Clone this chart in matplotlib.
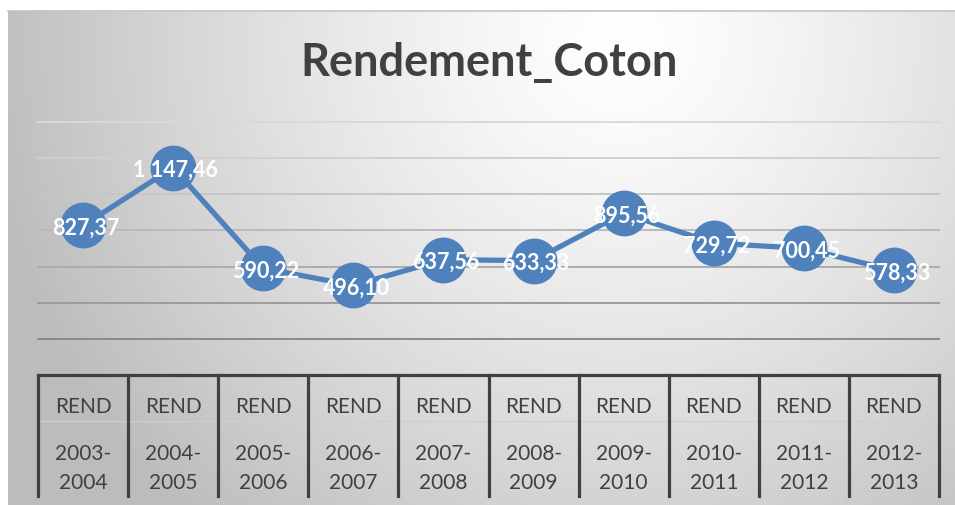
import numpy as np
import matplotlib
matplotlib.use("Agg")
import matplotlib.pyplot as plt
import matplotlib.transforms as mtransforms

# data
series_name = "REND"
periods = ["2003-2004", "2004-2005", "2005-2006", "2006-2007", "2007-2008",
           "2008-2009", "2009-2010", "2010-2011", "2011-2012", "2012-2013"]
rendement = [827.37, 1147.46, 590.22, 496.10, 637.56,
             633.33, 895.56, 729.72, 700.45, 578.33]
title = "Rendement_Coton"

W, H = 955, 506
blue = "#4f81bd"
dark = "#404040"

plt.rcParams["font.family"] = ["Lato", "DejaVu Sans"]


def fr_fmt(v):
    s = f"{v:,.2f}"
    return s.replace(",", " ").replace(".", ",")


fig = plt.figure(figsize=(W / 100, H / 100), dpi=100)

# background: radial grey gradient inside the chart area
bg = fig.add_axes([0, 0, 1, 1], zorder=-10)
bg.set_xlim(0, W)
bg.set_ylim(H, 0)
bg.axis("off")
yy, xx = np.mgrid[0:H, 0:W]
d = np.hypot(xx - 620, yy - 40)
g = 1.0 - 0.26 * np.clip(d / 640, 0, 1) ** 1.3
img = np.dstack([g, g, g])
img[:12, :, :] = 1.0
img[:, :8, :] = 1.0
bg.imshow(img, extent=(0, W, H, 0), aspect="auto", interpolation="bilinear")
bg.plot([8, W], [12, 12], color="#c4c4c4", lw=1.2)

# plot area
left, right = 38 / W, 939 / W
bottom, top = (H - 376) / H, (H - 123) / H
ax = fig.add_axes([left, bottom, right - left, top - bottom])
ax.patch.set_alpha(0)
x = np.arange(len(rendement))
ax.set_xlim(-0.5, len(rendement) - 0.5)
ax.set_ylim(0, 1400)
for s in ax.spines.values():
    s.set_visible(False)
ax.set_xticks([])
ax.set_yticks([])

# gridlines, lighter toward the top
grid_vals = np.arange(200, 1401, 200)
grid_cols = ["#8a8a8a", "#9c9c9c", "#acacac", "#bababa", "#c6c6c6", "#d0d0d0", "#d9d9d9"]
for gv, gc in zip(grid_vals, grid_cols):
    ax.axhline(gv, color=gc, lw=1.4, zorder=1, clip_on=False)

ax.plot(x, rendement, color=blue, lw=3.8, marker="o", markersize=32,
        markerfacecolor=blue, markeredgecolor=blue, zorder=3, clip_on=False)

for xi, v in zip(x, rendement):
    ax.text(xi + 0.03, v - 10, fr_fmt(v), ha="center", va="center",
            color="white", fontsize=15.5, fontweight="bold", zorder=4)

# category "table" under the axis
tr = mtransforms.blended_transform_factory(ax.transData, ax.transAxes)
ax_h = 376 - 123
yb = -(497 - 376) / ax_h
ax.plot([-0.5, len(rendement) - 0.5], [0, 0], color=dark, lw=2.3,
        transform=tr, clip_on=False, solid_capstyle="projecting")
ax.plot([-0.5, len(rendement) - 0.5], [-(422 - 376) / ax_h] * 2, color="#cfcfcf",
        lw=0.8, transform=tr, clip_on=False)
for xb in np.arange(-0.5, len(rendement), 1.0):
    ax.plot([xb, xb], [0, yb], color=dark, lw=2.3, transform=tr, clip_on=False)

for xi, p in zip(x, periods):
    a, b = p.split("-")
    ax.text(xi, -(407 - 376) / ax_h, series_name, transform=tr, ha="center",
            va="center", fontsize=15, color=dark)
    ax.text(xi, -(454 - 376) / ax_h, a + "-", transform=tr, ha="center",
            va="center", fontsize=15, color=dark)
    ax.text(xi, -(483 - 376) / ax_h, b, transform=tr, ha="center",
            va="center", fontsize=15, color=dark)

fig.text(489 / W, 1 - 63 / H, title, ha="center", va="center",
         fontsize=32.5, fontweight="bold", color=dark)

fig.savefig("out.png", dpi=100)
